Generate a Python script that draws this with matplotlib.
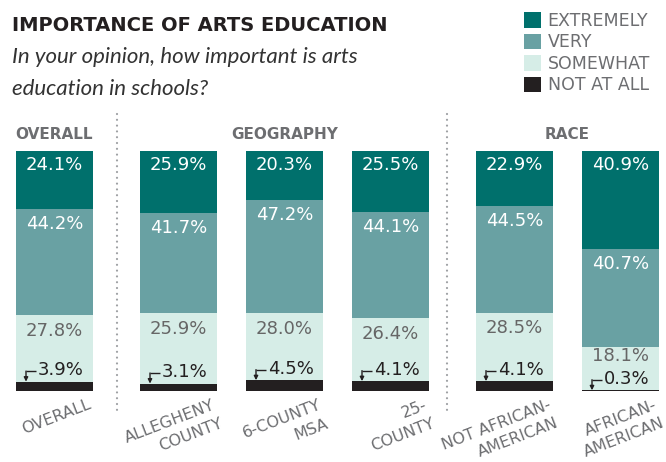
#!/usr/bin/env python

"""
Stacked bars: importance of arts education by group (overall, geography, race).
"""

import numpy as np
import matplotlib
matplotlib.use("Agg")
import matplotlib.pyplot as plt
from matplotlib.patches import Patch

# data
categories = ["OVERALL", "ALLEGHENY\nCOUNTY", "6-COUNTY\nMSA", "25-\nCOUNTY",
              "NOT AFRICAN-\nAMERICAN", "AFRICAN-\nAMERICAN"]
groups = ["OVERALL", "GEOGRAPHY", "RACE"]
group_sizes = [1, 3, 2]
extremely = [24.1, 25.9, 20.3, 25.5, 22.9, 40.9]
very = [44.2, 41.7, 47.2, 44.1, 44.5, 40.7]
somewhat = [27.8, 25.9, 28.0, 26.4, 28.5, 18.1]
not_at_all = [3.9, 3.1, 4.5, 4.1, 4.1, 0.3]
legend_labels = ["EXTREMELY", "VERY", "SOMEWHAT", "NOT AT ALL"]

# colours
c_ext = "#00706c"
c_very = "#69a1a3"
c_some = "#d6ede7"
c_none = "#231f20"
c_gray = "#6d6e71"

# layout (pixel-like units across the figure width)
W, H = 666, 462
bar_w = 77
first_center = 54.5
step = 106
group_gap = 18

centers = []
x = first_center
for gi, n in enumerate(group_sizes):
    if gi > 0:
        x += group_gap
    for k in range(n):
        centers.append(x)
        x += step
centers = np.array(centers)

fig = plt.figure(figsize=(W / 100, H / 100), dpi=100)
ax = fig.add_axes([0, 71 / H, 1, 240 / H])
ax.set_xlim(0, W)
ax.set_ylim(0, 100)
ax.axis("off")

ext = np.array(extremely)
vry = np.array(very)
som = np.array(somewhat)
non = np.array(not_at_all)

very_bottom = 100 - ext - vry
ax.bar(centers, non, bar_w, bottom=0, color=c_none, linewidth=0)
# somewhat segment fills the space up to the "very" block
ax.bar(centers, very_bottom - non, bar_w, bottom=non, color=c_some, linewidth=0)
ax.bar(centers, vry, bar_w, bottom=very_bottom, color=c_very, linewidth=0)
ax.bar(centers, ext, bar_w, bottom=100 - ext, color=c_ext, linewidth=0)

lab_fs = 13
for i, cx in enumerate(centers):
    ax.text(cx, 100 - 6, f"{ext[i]:.1f}%", ha="center", va="center",
            color="white", fontsize=lab_fs)
    ax.text(cx, very_bottom[i] + vry[i] - 6.3, f"{vry[i]:.1f}%", ha="center",
            va="center", color="white", fontsize=lab_fs)
    y_none = non[i] + 4.8
    y_some = max(very_bottom[i] - 6.5, y_none + 9.5)
    ax.text(cx, y_some, f"{som[i]:.1f}%", ha="center", va="center",
            color="#666666", fontsize=lab_fs)
    # bent arrow + label for "not at all"
    left = cx - bar_w / 2
    ax_x = left + 10
    txt_x = left + 22
    ax.text(txt_x, y_none, f"{non[i]:.1f}%", ha="left", va="center",
            color=c_none, fontsize=lab_fs)
    yh = y_none - 0.4
    ax.plot([ax_x, txt_x - 2], [yh, yh], color=c_none, lw=1, solid_capstyle="butt")
    ax.annotate("", xy=(ax_x, non[i]), xytext=(ax_x, yh),
                arrowprops=dict(arrowstyle="-|>", color=c_none, lw=1,
                                mutation_scale=6, shrinkA=0, shrinkB=0))
    # category label, rotated, anchored near the bar's right edge
    ax.text(cx + bar_w / 2 - 5, -2.6, categories[i], ha="right", va="top",
            rotation=21, rotation_mode="anchor", multialignment="right",
            color=c_gray, fontsize=11.5, linespacing=1.4)

# group headers
idx = 0
for g, n in zip(groups, group_sizes):
    gx = centers[idx:idx + n].mean()
    ax.text(gx, 106.7, g, ha="center", va="center", color=c_gray,
            fontsize=11, fontweight="bold")
    idx += n

# dotted separators between groups
for sx in [117, 447]:
    ax.plot([sx, sx], [115.5, -9.5], color="#9d9fa2", lw=1.6,
            dashes=[0.01, 2.6], dash_capstyle="round", clip_on=False)

# title and question
fig.text(12 / W, 1 - 31 / H, "IMPORTANCE OF ARTS EDUCATION", ha="left",
         va="baseline", fontsize=14, fontweight="bold", color=c_none)
fig.text(12 / W, 1 - 63 / H, "In your opinion, how important is arts",
         ha="left", va="baseline", fontsize=16, style="italic",
         family=["Lato", "DejaVu Sans"], color="#333333")
fig.text(12 / W, 1 - 95 / H, "education in schools?",
         ha="left", va="baseline", fontsize=16, style="italic",
         family=["Lato", "DejaVu Sans"], color="#333333")

# legend
handles = [Patch(facecolor=c, edgecolor="none") for c in [c_ext, c_very, c_some, c_none]]
leg = fig.legend(handles, legend_labels, loc="upper left",
                 bbox_to_anchor=(524 / W, 1 - 12 / H), frameon=False,
                 fontsize=12.5, handlelength=0.98, handleheight=0.98,
                 handletextpad=0.38, labelspacing=0.2, borderaxespad=0,
                 borderpad=0)
for t in leg.get_texts():
    t.set_color(c_gray)

fig.savefig("out.png", dpi=100)
